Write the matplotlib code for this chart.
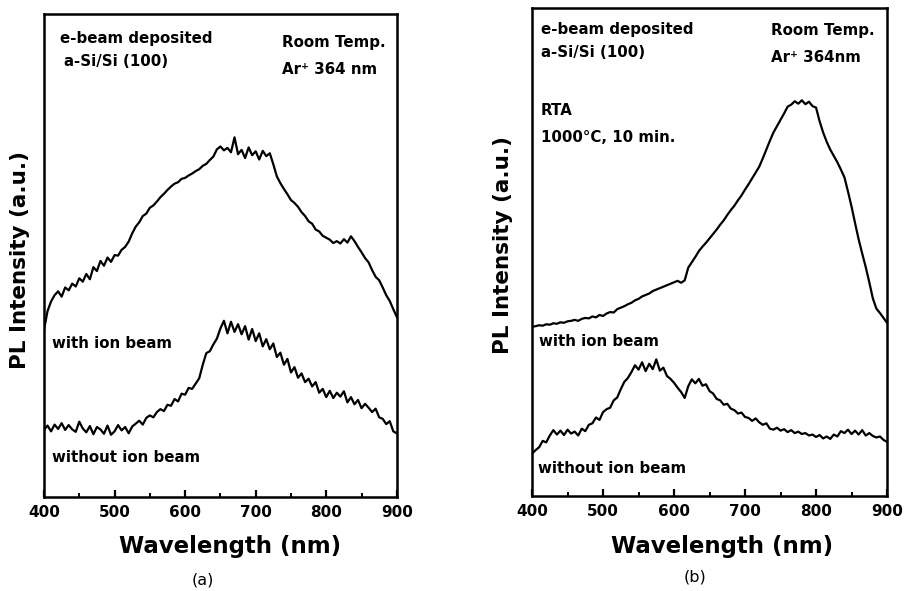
import numpy as np
import matplotlib
matplotlib.use('Agg')
import matplotlib.pyplot as plt
from matplotlib.ticker import MultipleLocator

plt.rcParams['font.family'] = ['DejaVu Sans']
plt.rcParams['font.weight'] = 'bold'

# wavelength grid (nm), 5 nm steps
wl = np.arange(400, 901, 5)

# ── panel (a): as deposited ──────────────────────────────────────────────────
a_with = [
    34.6, 38.5, 40.5, 41.8, 42.6, 41.5, 43.4, 42.8, 44.2, 43.6,
    45.3, 44.6, 46.2, 45.1, 47.6, 46.8, 48.9, 47.9, 49.6, 48.7,
    50.1, 50.0, 51.2, 51.8, 52.9, 54.6, 56.0, 56.9, 58.2, 58.7,
    59.9, 60.4, 61.2, 62.1, 62.8, 63.6, 64.3, 64.9, 65.2, 65.9,
    66.1, 66.6, 67.0, 67.5, 67.9, 68.6, 69.0, 69.8, 70.5, 72.0,
    72.6, 71.8, 72.3, 71.4, 74.5, 71.0, 71.9, 70.2, 72.4, 70.8,
    71.6, 69.9, 71.7, 70.6, 71.2, 68.9, 66.4, 65.0, 63.8, 62.7,
    61.5, 60.9, 60.1, 59.0, 58.2, 57.1, 56.6, 55.4, 55.0, 54.1,
    53.7, 53.3, 52.6, 53.0, 52.5, 53.4, 52.7, 54.0, 53.0, 51.8,
    50.7, 49.5, 48.6, 47.0, 45.6, 44.9, 43.4, 41.8, 40.6, 38.9,
    37.3,
]
a_without = [
    13.9, 14.8, 13.6, 15.0, 14.1, 15.3, 13.9, 14.9, 14.0, 13.5,
    15.6, 14.2, 13.4, 14.7, 13.0, 14.5, 14.0, 13.1, 14.8, 12.9,
    13.6, 14.9, 13.8, 14.5, 13.2, 14.6, 15.2, 15.8, 15.0, 16.4,
    16.9, 16.5, 17.6, 18.2, 17.8, 19.1, 18.9, 20.3, 19.8, 21.4,
    21.2, 22.6, 22.4, 23.5, 24.6, 27.4, 29.8, 30.2, 31.6, 32.8,
    34.9, 36.5, 33.9, 36.3, 34.2, 35.8, 33.7, 35.4, 32.6, 34.8,
    32.3, 33.9, 31.2, 32.7, 30.6, 31.8, 29.0, 29.9, 27.4, 28.6,
    25.8, 26.9, 24.7, 25.6, 23.8, 24.5, 22.9, 23.8, 21.6, 22.4,
    20.7, 22.0, 20.5, 21.6, 20.8, 21.9, 19.6, 20.7, 19.2, 20.1,
    18.4, 19.3, 18.5, 17.6, 18.3, 16.5, 16.2, 15.1, 15.7, 13.6,
    13.2,
]

# ── panel (b): after RTA 1000 C ──────────────────────────────────────────────
b_with = [
    34.7, 34.8, 35.0, 34.9, 35.2, 35.1, 35.4, 35.3, 35.6, 35.5,
    35.8, 35.9, 36.1, 35.9, 36.3, 36.5, 36.4, 36.8, 36.6, 37.1,
    36.9, 37.4, 37.7, 37.6, 38.3, 38.6, 38.9, 39.3, 39.6, 40.1,
    40.4, 40.9, 41.2, 41.5, 42.0, 42.3, 42.6, 42.9, 43.2, 43.5,
    43.8, 44.1, 43.7, 44.2, 46.8, 47.9, 49.0, 50.2, 51.1, 51.9,
    52.8, 53.7, 54.6, 55.6, 56.5, 57.6, 58.6, 59.5, 60.6, 61.6,
    62.8, 63.9, 65.1, 66.3, 67.5, 69.2, 71.0, 72.8, 74.5, 75.8,
    77.1, 78.4, 79.8, 80.2, 80.9, 80.4, 81.1, 80.3, 80.8, 79.9,
    79.6, 76.8, 74.5, 72.6, 71.0, 69.7, 68.4, 66.9, 65.3, 62.4,
    59.3, 55.9, 52.6, 49.7, 46.9, 43.8, 40.5, 38.4, 37.5, 36.5,
    35.5,
]
b_without = [
    8.7, 9.4, 10.0, 11.3, 11.0, 12.4, 13.5, 12.6, 13.4, 12.5,
    13.6, 12.8, 13.2, 12.4, 13.8, 13.3, 14.6, 14.9, 16.1, 15.6,
    17.2, 17.8, 18.1, 19.6, 20.2, 21.9, 23.4, 24.2, 25.4, 26.8,
    25.9, 27.4, 25.6, 27.1, 26.0, 28.0, 25.7, 26.3, 24.6, 24.0,
    23.2, 22.2, 21.3, 20.1, 22.5, 23.9, 23.1, 24.0, 22.6, 22.9,
    21.5, 21.0, 19.9, 19.6, 18.7, 18.9, 17.9, 17.6, 16.9, 17.1,
    16.2, 16.0, 15.4, 15.9, 15.1, 14.6, 14.9, 13.8, 13.6, 14.0,
    13.4, 13.7, 13.1, 13.5, 12.9, 13.2, 12.7, 12.9, 12.4, 12.6,
    12.1, 12.5, 11.8, 12.2, 11.7, 12.6, 12.2, 13.3, 12.9, 13.6,
    12.7, 13.4, 12.6, 13.5, 12.4, 12.9, 12.3, 12.0, 12.2, 11.5,
    11.1,
]


def style_axes(ax):
    ax.set_xlim(400, 900)
    ax.set_ylim(0, 100)
    ax.set_yticks([])
    ax.xaxis.set_major_locator(MultipleLocator(100))
    ax.xaxis.set_minor_locator(MultipleLocator(50))
    ax.tick_params(axis='x', which='major', direction='in', length=5, width=1.6,
                   labelsize=11, pad=6, top=False)
    ax.tick_params(axis='x', which='minor', direction='in', length=3, width=1.4,
                   top=False)
    for lab in ax.get_xticklabels():
        lab.set_fontweight('bold')
    for sp in ax.spines.values():
        sp.set_linewidth(1.8)
    ax.set_xlabel('Wavelength (nm)', fontsize=16.5, fontweight='bold')
    ax.set_ylabel('PL Intensity (a.u.)', fontsize=15.5, fontweight='bold')


fig = plt.figure(figsize=(9.07, 5.91), dpi=100)
ax_a = fig.add_axes([0.0485, 0.159, 0.389, 0.817])
ax_b = fig.add_axes([0.5866, 0.1607, 0.3914, 0.8257])

txt = dict(fontsize=10.8, fontweight='bold', va='center', ha='left')
line = dict(color='black', lw=1.6)

# ── (a) ──
ax_a.plot(wl, a_with, **line)
ax_a.plot(wl, a_without, **line)
style_axes(ax_a)
ax_a.xaxis.set_label_coords(0.527, -0.079)
ax_a.yaxis.set_label_coords(-0.040, 0.49)
ax_a.text(0.045, 0.950, 'e-beam deposited', transform=ax_a.transAxes, **txt)
ax_a.text(0.057, 0.901, 'a-Si/Si (100)', transform=ax_a.transAxes, **txt)
ax_a.text(0.674, 0.942, 'Room Temp.', transform=ax_a.transAxes, **txt)
ax_a.text(0.674, 0.886, 'Ar\u207a 364 nm', transform=ax_a.transAxes, **txt)
ax_a.text(0.023, 0.319, 'with ion beam', transform=ax_a.transAxes, **txt)
ax_a.text(0.023, 0.081, 'without ion beam', transform=ax_a.transAxes, **txt)
ax_a.text(0.45, -0.172, '(a)', transform=ax_a.transAxes, fontsize=11.5,
          fontweight='normal', ha='center', va='center')

# ── (b) ──
ax_b.plot(wl, b_with, **line)
ax_b.plot(wl, b_without, **line)
style_axes(ax_b)
ax_b.xaxis.set_label_coords(0.535, -0.080)
ax_b.yaxis.set_label_coords(-0.054, 0.514)
ax_b.text(0.025, 0.955, 'e-beam deposited', transform=ax_b.transAxes, **txt)
ax_b.text(0.025, 0.908, 'a-Si/Si (100)', transform=ax_b.transAxes, **txt)
ax_b.text(0.673, 0.953, 'Room Temp.', transform=ax_b.transAxes, **txt)
ax_b.text(0.673, 0.898, 'Ar\u207a 364nm', transform=ax_b.transAxes, **txt)
ax_b.text(0.025, 0.791, 'RTA', transform=ax_b.transAxes, **txt)
ax_b.text(0.025, 0.734, '1000\u00b0C, 10 min.', transform=ax_b.transAxes, **txt)
ax_b.text(0.020, 0.316, 'with ion beam', transform=ax_b.transAxes, **txt)
ax_b.text(0.017, 0.057, 'without ion beam', transform=ax_b.transAxes, **txt)
ax_b.text(0.459, -0.166, '(b)', transform=ax_b.transAxes, fontsize=11.5,
          fontweight='normal', ha='center', va='center')

fig.savefig('out.png', dpi=100)
